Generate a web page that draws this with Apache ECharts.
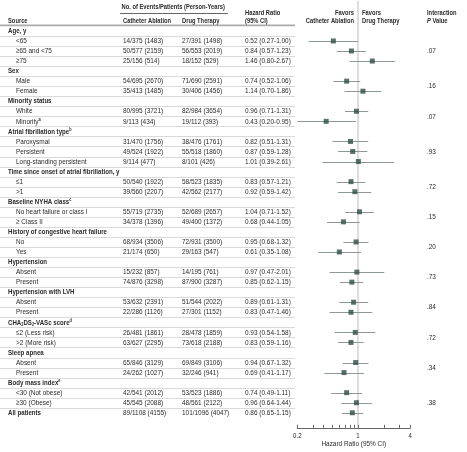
<!DOCTYPE html>
<html><head><meta charset="utf-8">
<script src="https://cdn.jsdelivr.net/npm/echarts@6/dist/echarts.min.js"></script>
<style>html,body{margin:0;padding:0;background:#fff}#c{width:467px;height:452px}</style>
</head><body><div id="c"></div>
<script>
// ---------------- data ----------------
const rowLabels = [
  'Age, y', '<65', '≥65 and <75', '≥75',
  'Sex', 'Male', 'Female',
  'Minority status', 'White', 'Minority{sup|a}',
  'Atrial fibrillation type{sup|b}', 'Paroxysmal', 'Persistent', 'Long-standing persistent',
  'Time since onset of atrial fibrillation, y', '≤1', '>1',
  'Baseline NYHA class{sup|c}', 'No heart failure or class I', '≥ Class II',
  'History of congestive heart failure', 'No', 'Yes',
  'Hypertension', 'Absent', 'Present',
  'Hypertension with LVH', 'Absent', 'Present',
  'CHA{sub|2}DS{sub|2}-VASc score{sup|d}', '≤2 (Less risk)', '>2 (More risk)',
  'Sleep apnea', 'Absent', 'Present',
  'Body mass index{sup|e}', '<30 (Not obese)', '≥30 (Obese)',
  'All patients'
];
const rowKinds = [
  'g','i','i','i', 'g','i','i', 'g','i','i', 'g','i','i','i', 'g','i','i',
  'g','i','i', 'g','i','i', 'g','i','i', 'g','i','i', 'g','i','i', 'g','i','i',
  'g','i','i', 't'
];
const ablationEvents = [
  null,'14/375 (1483)','50/577 (2159)','25/156 (514)',
  null,'54/695 (2670)','35/413 (1485)',
  null,'80/995 (3721)','9/113 (434)',
  null,'31/470 (1756)','49/524 (1922)','9/114 (477)',
  null,'50/540 (1922)','39/560 (2207)',
  null,'55/719 (2735)','34/378 (1396)',
  null,'68/934 (3506)','21/174 (650)',
  null,'15/232 (857)','74/876 (3298)',
  null,'53/632 (2391)','22/286 (1126)',
  null,'26/481 (1861)','63/627 (2295)',
  null,'65/846 (3129)','24/262 (1027)',
  null,'42/541 (2012)','45/545 (2088)',
  '89/1108 (4155)'
];
const drugEvents = [
  null,'27/391 (1498)','56/553 (2019)','18/152 (529)',
  null,'71/690 (2591)','30/406 (1456)',
  null,'82/984 (3654)','19/112 (393)',
  null,'38/476 (1761)','55/518 (1860)','8/101 (426)',
  null,'58/523 (1835)','42/562 (2177)',
  null,'52/689 (2657)','49/400 (1372)',
  null,'72/931 (3500)','29/163 (547)',
  null,'14/195 (761)','87/900 (3287)',
  null,'51/544 (2022)','27/301 (1152)',
  null,'28/478 (1859)','73/618 (2188)',
  null,'69/849 (3106)','32/246 (941)',
  null,'53/523 (1886)','48/561 (2122)',
  '101/1096 (4047)'
];
const hazardRatio = [
  null,0.52,0.84,1.46, null,0.74,1.14, null,0.96,0.43, null,0.82,0.87,1.01,
  null,0.83,0.92, null,1.04,0.68, null,0.95,0.61, null,0.97,0.85, null,0.89,0.83,
  null,0.93,0.83, null,0.94,0.69, null,0.74,0.96, 0.86
];
const ciLow = [
  null,0.27,0.57,0.80, null,0.52,0.70, null,0.71,0.20, null,0.51,0.59,0.39,
  null,0.57,0.59, null,0.71,0.44, null,0.68,0.35, null,0.47,0.62, null,0.61,0.47,
  null,0.54,0.59, null,0.67,0.41, null,0.49,0.64, 0.65
];
const ciHigh = [
  null,1.00,1.23,2.67, null,1.06,1.86, null,1.31,0.95, null,1.31,1.28,2.61,
  null,1.21,1.42, null,1.52,1.05, null,1.32,1.08, null,2.01,1.15, null,1.31,1.46,
  null,1.58,1.16, null,1.32,1.17, null,1.11,1.44, 1.15
];
const pValues    = ['.07','.16','.07','.93','.72','.15','.20','.73','.84','.72','.34','.38'];
const pValueRows = [2, 5.5, 8.5, 12, 15.5, 18.5, 21.5, 24.5, 27.5, 30.5, 33.5, 37];
const xTickValues = [0.2,0.3,0.4,0.5,0.6,0.7,0.8,0.9,1,2,3,4];
const xTickLabels = [0.2, 1, 4];
const xAxisTitle = 'Hazard Ratio (95% CI)';

// ---------------- layout / style ----------------
const FONT = '"Liberation Sans", Arial, sans-serif';
const FS = 8;
const SX_REG = 0.805, SX_BOLD = 0.765;
const TXT = '#2a2a2a';
const Y_MIN = -3, Y_MAX = 39.5;
const X_MIN = 0.2, X_MAX = 4;
const GRID_TOP = 0.75, GRID_H = 427.1;
const COL = { label: 8, indent: 16, abl: 123, drug: 182, hr: 245, p: 427, sepEnd: 295 };
const MARK = '#2e4d47', CI = '#8d9896', REF = '#dedede', SEP = '#d9d9d9';

const rich = {
  sup: { fontSize: 5, fontFamily: FONT, fontWeight: 'bold', fill: TXT, verticalAlign: 'top', lineHeight: 9 },
  sub: { fontSize: 5, fontFamily: FONT, fontWeight: 'bold', fill: TXT, verticalAlign: 'bottom', lineHeight: 9 }
};

function t(x, y, text, opts) {
  opts = opts || {};
  return {
    type: 'text', x: x, y: y,
    scaleX: opts.sx || (opts.bold ? SX_BOLD : SX_REG), scaleY: 1,
    style: {
      text: text, x: 0, y: 0, fill: opts.fill || TXT,
      fontSize: opts.fs || FS, fontFamily: FONT,
      fontWeight: opts.bold ? 'bold' : 'normal',
      align: opts.align || 'left', verticalAlign: 'middle',
      lineHeight: 9, rich: opts.rich
    }
  };
}
function fmt(v) { return v.toFixed(2); }
const HEAD = { bold: true, fs: 7.5, sx: 0.77 };
function hd(extra) { return Object.assign({}, HEAD, extra || {}); }

const chart = echarts.init(document.getElementById('c'), null, { renderer: 'canvas' });

const option = {
  animation: false,
  backgroundColor: '#fff',
  grid: [
    { left: 0, width: 467, top: GRID_TOP, height: GRID_H },
    { left: 297.3, width: 113, top: GRID_TOP, height: GRID_H }
  ],
  xAxis: [
    { gridIndex: 0, type: 'value', min: 0, max: 467, show: false },
    { gridIndex: 1, type: 'log', min: X_MIN, max: X_MAX,
      axisLine: { show: true, onZero: false, lineStyle: { color: '#666', width: 1 } },
      axisTick: { show: false }, axisLabel: { show: false }, splitLine: { show: false } }
  ],
  yAxis: [
    { gridIndex: 0, type: 'value', inverse: true, min: Y_MIN, max: Y_MAX, show: false },
    { gridIndex: 1, type: 'value', inverse: true, min: Y_MIN, max: Y_MAX, show: false }
  ],
  series: [
    // row separators
    { type: 'custom', xAxisIndex: 0, yAxisIndex: 0, z: 1, silent: true, clip: false,
      data: rowLabels.slice(0, rowLabels.length - 1).map((_, i) => [0, i + 0.5]),
      renderItem: function (params, api) {
        const a = api.coord([0, api.value(1)]);
        const b = api.coord([COL.sepEnd, api.value(1)]);
        return { type: 'line', shape: { x1: a[0], y1: Math.round(a[1]) + 0.5, x2: b[0], y2: Math.round(b[1]) + 0.5 },
          style: { stroke: SEP, lineWidth: 1 } };
      } },
    // header rule
    { type: 'custom', xAxisIndex: 0, yAxisIndex: 0, z: 1, silent: true, clip: false,
      data: [[0, -0.5]],
      renderItem: function (params, api) {
        const a = api.coord([0, -0.5]);
        const b = api.coord([COL.sepEnd, -0.5]);
        return { type: 'line', shape: { x1: a[0], y1: a[1] - 0.5, x2: b[0], y2: b[1] - 0.5 },
          style: { stroke: '#aaaaaa', lineWidth: 1.6 } };
      } },
    // table text
    { type: 'custom', xAxisIndex: 0, yAxisIndex: 0, z: 3, silent: true, clip: false,
      data: rowLabels.map((_, i) => [0, i]),
      renderItem: function (params, api) {
        const i = params.dataIndex;
        const y = api.coord([0, i])[1];
        const kind = rowKinds[i];
        const ch = [];
        const lx = api.coord([kind === 'i' ? COL.indent : COL.label, i])[0];
        ch.push(t(lx, y, rowLabels[i], { bold: kind !== 'i', rich: rich }));
        if (ablationEvents[i]) ch.push(t(api.coord([COL.abl, i])[0], y, ablationEvents[i]));
        if (drugEvents[i]) ch.push(t(api.coord([COL.drug, i])[0], y, drugEvents[i]));
        if (hazardRatio[i] != null)
          ch.push(t(api.coord([COL.hr, i])[0], y, fmt(hazardRatio[i]) + ' (' + fmt(ciLow[i]) + '-' + fmt(ciHigh[i]) + ')'));
        return { type: 'group', children: ch };
      } },
    // p values
    { type: 'custom', xAxisIndex: 0, yAxisIndex: 0, z: 3, silent: true, clip: false,
      data: pValueRows.map((r) => [COL.p, r]),
      renderItem: function (params, api) {
        const p = api.coord([api.value(0), api.value(1)]);
        return t(p[0], p[1], pValues[params.dataIndex]);
      } },
    // reference line at HR = 1
    { type: 'custom', xAxisIndex: 1, yAxisIndex: 1, z: 1, silent: true, clip: false,
      data: [[1, Y_MIN]],
      renderItem: function (params, api) {
        const a = api.coord([1, Y_MIN]);
        const b = api.coord([1, Y_MAX]);
        return { type: 'line', shape: { x1: a[0], y1: a[1], x2: b[0], y2: b[1] },
          style: { stroke: REF, lineWidth: 2 } };
      } },
    // confidence intervals
    { type: 'custom', xAxisIndex: 1, yAxisIndex: 1, z: 2, silent: true, clip: false,
      encode: { x: [0, 1], y: 2 },
      data: hazardRatio.map((h, i) => h == null ? null : [ciLow[i], ciHigh[i], i]).filter(d => d),
      renderItem: function (params, api) {
        const a = api.coord([api.value(0), api.value(2)]);
        const b = api.coord([api.value(1), api.value(2)]);
        const y = Math.round(a[1]) + 0.5;
        return { type: 'line', shape: { x1: a[0], y1: y, x2: b[0], y2: y },
          style: { stroke: CI, lineWidth: 1 } };
      } },
    // point estimates
    { type: 'scatter', xAxisIndex: 1, yAxisIndex: 1, z: 4, silent: true,
      symbol: 'rect', symbolSize: 5,
      itemStyle: { color: MARK },
      data: hazardRatio.map((h, i) => h == null ? null : [h, i]).filter(d => d) },
    // axis ticks
    { type: 'custom', xAxisIndex: 1, yAxisIndex: 1, z: 3, silent: true, clip: false,
      data: xTickValues.map(v => [v, Y_MAX]),
      renderItem: function (params, api) {
        const p = api.coord([api.value(0), Y_MAX]);
        const x = Math.round(p[0]) + 0.5;
        return { type: 'line', shape: { x1: x, y1: p[1], x2: x, y2: p[1] - 3 },
          style: { stroke: '#666', lineWidth: 1 } };
      } },
    // axis tick labels
    { type: 'custom', xAxisIndex: 1, yAxisIndex: 1, z: 3, silent: true, clip: false,
      data: xTickLabels.map(v => [v, Y_MAX]),
      renderItem: function (params, api) {
        const p = api.coord([api.value(0), Y_MAX]);
        return t(p[0], p[1] + 8.5, String(api.value(0)), { align: 'center', fs: 7.5 });
      } },
    // axis title
    { type: 'custom', xAxisIndex: 1, yAxisIndex: 1, z: 3, silent: true, clip: false,
      data: [[X_MIN, Y_MAX]],
      renderItem: function (params, api) {
        const a = api.coord([X_MIN, Y_MAX]);
        const b = api.coord([X_MAX, Y_MAX]);
        return t((a[0] + b[0]) / 2, a[1] + 16, xAxisTitle, { align: 'center' });
      } }
  ],
  graphic: [
    t(121.5, 7, 'No. of Events/Patients (Person-Years)', hd()),
    { type: 'line', shape: { x1: 120, y1: 13.5, x2: 228, y2: 13.5 }, style: { stroke: '#666', lineWidth: 1 } },
    t(COL.label, 20.5, 'Source', hd()),
    t(COL.abl, 20.5, 'Catheter Ablation', hd()),
    t(COL.drug, 20.5, 'Drug Therapy', hd()),
    t(COL.hr, 13, 'Hazard Ratio', hd()),
    t(COL.hr, 21, '(95% CI)', hd()),
    t(354, 13, 'Favors', hd({ align: 'right' })),
    t(354, 21, 'Catheter Ablation', hd({ align: 'right' })),
    t(362, 13, 'Favors', hd()),
    t(362, 21, 'Drug Therapy', hd()),
    t(COL.p, 13, 'Interaction', hd()),
    t(COL.p, 21, '{it|P} Value', hd({ rich: { it: { fontSize: 7.5, fontFamily: FONT, fontWeight: 'bold', fontStyle: 'italic', fill: TXT } } }))
  ]
};
chart.setOption(option);
</script>
</body></html>
